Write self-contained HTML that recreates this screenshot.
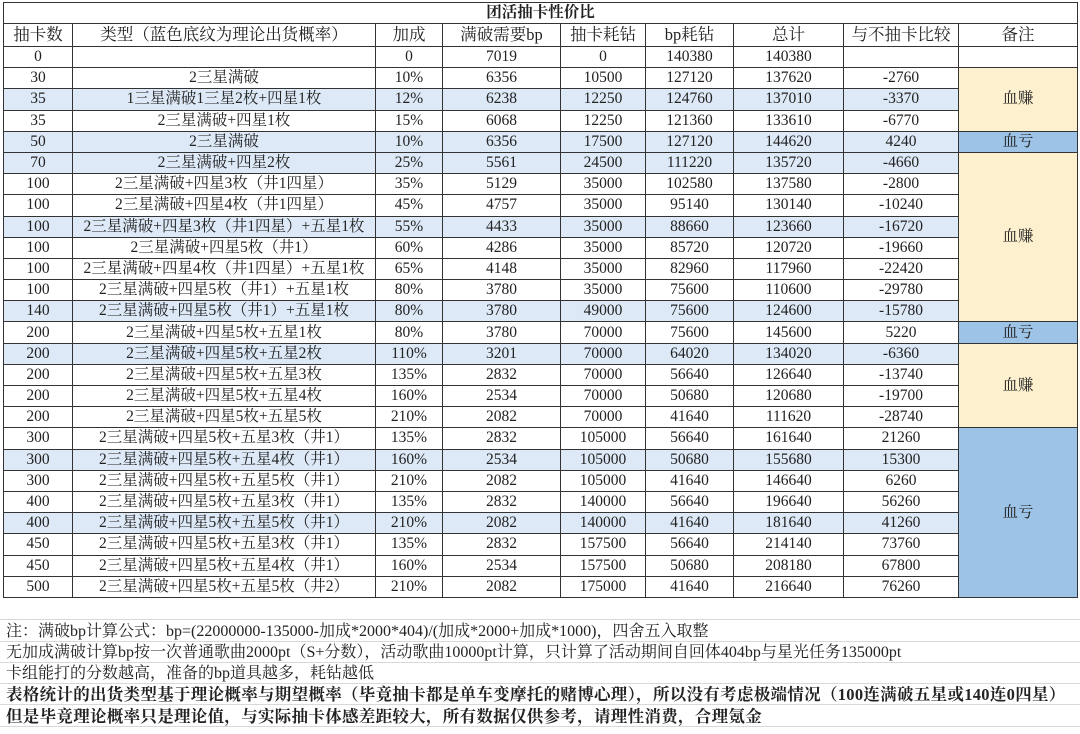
<!DOCTYPE html>
<html><head><meta charset="utf-8"><style>
body{margin:0;width:1080px;height:734px;background:#fff;overflow:hidden;position:relative;font-family:"Liberation Serif","Noto Serif CJK SC",serif;color:#222}
table{position:absolute;left:3px;top:2px;border-collapse:collapse;table-layout:fixed;width:1074px}
td{border:1px solid #333;text-align:center;font-size:15.5px;padding:0;line-height:20px;height:20.2px;white-space:nowrap;overflow:hidden}
tr.t td{height:19px;font-weight:bold;font-size:15.5px}
tr.h td{height:22px;font-size:16.5px}
tr.b td{background:#dde9f7}
td.y{background:#fdf0cf!important}
td.u{background:#9dc3e6!important}
.n{position:absolute;left:0;width:1080px;height:21.3px;border-bottom:1px solid #d8d8d8;font-size:16px;line-height:21px;padding-left:6px;box-sizing:border-box;white-space:nowrap}
.bd{font-weight:bold;font-size:16.5px;letter-spacing:0.3px}
</style></head><body>
<table>
<colgroup><col style="width:69px"><col style="width:303px"><col style="width:67px"><col style="width:118px"><col style="width:85px"><col style="width:88px"><col style="width:110px"><col style="width:115px"><col style="width:119px"></colgroup>
<tr class="t"><td colspan="9">团活抽卡性价比</td></tr>
<tr class="h"><td>抽卡数</td><td>类型（蓝色底纹为理论出货概率）</td><td>加成</td><td>满破需要bp</td><td>抽卡耗钻</td><td>bp耗钻</td><td>总计</td><td>与不抽卡比较</td><td>备注</td></tr>
<tr><td>0</td><td></td><td>0</td><td>7019</td><td>0</td><td>140380</td><td>140380</td><td></td><td></td></tr>
<tr><td>30</td><td>2三星满破</td><td>10%</td><td>6356</td><td>10500</td><td>127120</td><td>137620</td><td>-2760</td><td rowspan="3" class="y">血赚</td></tr>
<tr class="b"><td>35</td><td>1三星满破1三星2枚+四星1枚</td><td>12%</td><td>6238</td><td>12250</td><td>124760</td><td>137010</td><td>-3370</td></tr>
<tr><td>35</td><td>2三星满破+四星1枚</td><td>15%</td><td>6068</td><td>12250</td><td>121360</td><td>133610</td><td>-6770</td></tr>
<tr class="b"><td>50</td><td>2三星满破</td><td>10%</td><td>6356</td><td>17500</td><td>127120</td><td>144620</td><td>4240</td><td class="u">血亏</td></tr>
<tr class="b"><td>70</td><td>2三星满破+四星2枚</td><td>25%</td><td>5561</td><td>24500</td><td>111220</td><td>135720</td><td>-4660</td><td rowspan="8" class="y">血赚</td></tr>
<tr><td>100</td><td>2三星满破+四星3枚（井1四星）</td><td>35%</td><td>5129</td><td>35000</td><td>102580</td><td>137580</td><td>-2800</td></tr>
<tr><td>100</td><td>2三星满破+四星4枚（井1四星）</td><td>45%</td><td>4757</td><td>35000</td><td>95140</td><td>130140</td><td>-10240</td></tr>
<tr class="b"><td>100</td><td>2三星满破+四星3枚（井1四星）+五星1枚</td><td>55%</td><td>4433</td><td>35000</td><td>88660</td><td>123660</td><td>-16720</td></tr>
<tr><td>100</td><td>2三星满破+四星5枚（井1）</td><td>60%</td><td>4286</td><td>35000</td><td>85720</td><td>120720</td><td>-19660</td></tr>
<tr><td>100</td><td>2三星满破+四星4枚（井1四星）+五星1枚</td><td>65%</td><td>4148</td><td>35000</td><td>82960</td><td>117960</td><td>-22420</td></tr>
<tr><td>100</td><td>2三星满破+四星5枚（井1）+五星1枚</td><td>80%</td><td>3780</td><td>35000</td><td>75600</td><td>110600</td><td>-29780</td></tr>
<tr class="b"><td>140</td><td>2三星满破+四星5枚（井1）+五星1枚</td><td>80%</td><td>3780</td><td>49000</td><td>75600</td><td>124600</td><td>-15780</td></tr>
<tr><td>200</td><td>2三星满破+四星5枚+五星1枚</td><td>80%</td><td>3780</td><td>70000</td><td>75600</td><td>145600</td><td>5220</td><td class="u">血亏</td></tr>
<tr class="b"><td>200</td><td>2三星满破+四星5枚+五星2枚</td><td>110%</td><td>3201</td><td>70000</td><td>64020</td><td>134020</td><td>-6360</td><td rowspan="4" class="y">血赚</td></tr>
<tr><td>200</td><td>2三星满破+四星5枚+五星3枚</td><td>135%</td><td>2832</td><td>70000</td><td>56640</td><td>126640</td><td>-13740</td></tr>
<tr><td>200</td><td>2三星满破+四星5枚+五星4枚</td><td>160%</td><td>2534</td><td>70000</td><td>50680</td><td>120680</td><td>-19700</td></tr>
<tr><td>200</td><td>2三星满破+四星5枚+五星5枚</td><td>210%</td><td>2082</td><td>70000</td><td>41640</td><td>111620</td><td>-28740</td></tr>
<tr><td>300</td><td>2三星满破+四星5枚+五星3枚（井1）</td><td>135%</td><td>2832</td><td>105000</td><td>56640</td><td>161640</td><td>21260</td><td rowspan="8" class="u">血亏</td></tr>
<tr class="b"><td>300</td><td>2三星满破+四星5枚+五星4枚（井1）</td><td>160%</td><td>2534</td><td>105000</td><td>50680</td><td>155680</td><td>15300</td></tr>
<tr><td>300</td><td>2三星满破+四星5枚+五星5枚（井1）</td><td>210%</td><td>2082</td><td>105000</td><td>41640</td><td>146640</td><td>6260</td></tr>
<tr><td>400</td><td>2三星满破+四星5枚+五星3枚（井1）</td><td>135%</td><td>2832</td><td>140000</td><td>56640</td><td>196640</td><td>56260</td></tr>
<tr class="b"><td>400</td><td>2三星满破+四星5枚+五星5枚（井1）</td><td>210%</td><td>2082</td><td>140000</td><td>41640</td><td>181640</td><td>41260</td></tr>
<tr><td>450</td><td>2三星满破+四星5枚+五星3枚（井1）</td><td>135%</td><td>2832</td><td>157500</td><td>56640</td><td>214140</td><td>73760</td></tr>
<tr><td>450</td><td>2三星满破+四星5枚+五星4枚（井1）</td><td>160%</td><td>2534</td><td>157500</td><td>50680</td><td>208180</td><td>67800</td></tr>
<tr><td>500</td><td>2三星满破+四星5枚+五星5枚（井2）</td><td>210%</td><td>2082</td><td>175000</td><td>41640</td><td>216640</td><td>76260</td></tr>
</table>
<div class="n" style="top:599px"></div>
<div class="n" style="top:621px">注：满破bp计算公式：bp=(22000000-135000-加成*2000*404)/(加成*2000+加成*1000)，四舍五入取整</div>
<div class="n" style="top:642px">无加成满破计算bp按一次普通歌曲2000pt（S+分数），活动歌曲10000pt计算，只计算了活动期间自回体404bp与星光任务135000pt</div>
<div class="n" style="top:663px">卡组能打的分数越高，准备的bp道具越多，耗钻越低</div>
<div class="n bd" style="top:684px">表格统计的出货类型基于理论概率与期望概率（毕竟抽卡都是单车变摩托的赌博心理），所以没有考虑极端情况（100连满破五星或140连0四星）</div>
<div class="n bd" style="top:706px">但是毕竟理论概率只是理论值，与实际抽卡体感差距较大，所有数据仅供参考，请理性消费，合理氪金</div>
</body></html>
